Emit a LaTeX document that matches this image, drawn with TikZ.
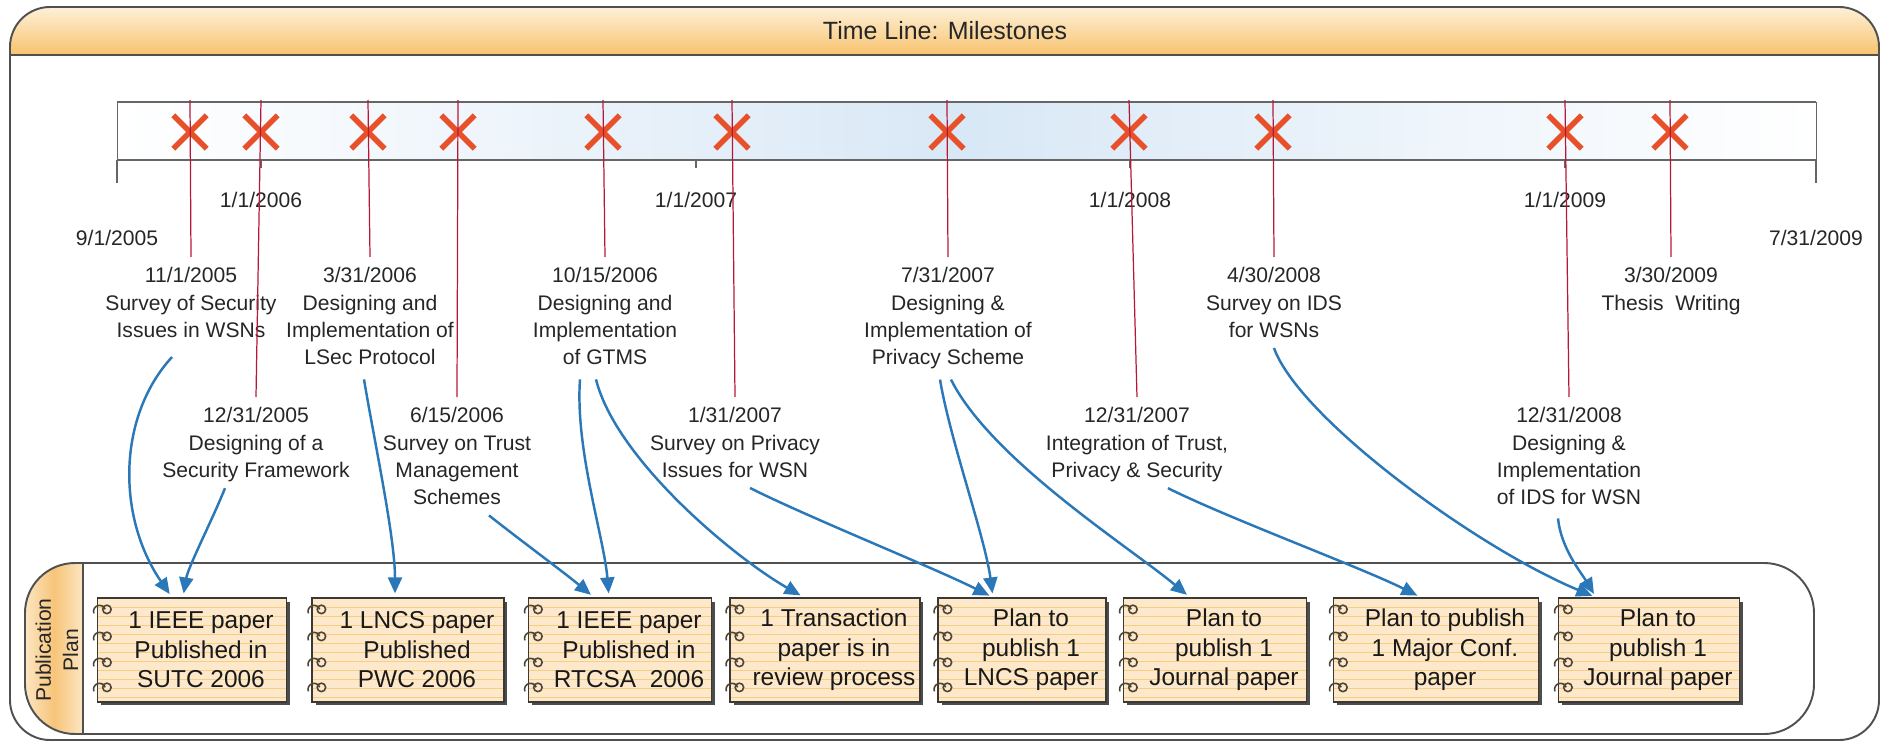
\documentclass[tikz,border=0pt]{standalone}
\usepackage{fontspec}
\setmainfont{Liberation Sans}
\usetikzlibrary{arrows.meta, shapes.misc, shadows}

\definecolor{framegray}{HTML}{505050}
\definecolor{hdrtop}{HTML}{FDF0D8}
\definecolor{hdrbot}{HTML}{F8C36E}
\definecolor{barblue}{HTML}{D9E8F6}
\definecolor{bargray}{HTML}{666666}
\definecolor{xred}{HTML}{E8502A}
\definecolor{linered}{HTML}{B81838}
\definecolor{flowblue}{HTML}{2A78B8}
\definecolor{nbfill}{HTML}{FDE8CC}
\definecolor{nbrule}{HTML}{F4CF7E}
\definecolor{nbedge}{HTML}{3C3832}
\definecolor{ringgray}{HTML}{4E4434}
\definecolor{tabpale}{HTML}{FCE6C2}
\definecolor{taborange}{HTML}{F7C47A}
\definecolor{txtgray}{HTML}{262626}

\tikzset{
  outerframe/.style={draw=framegray, line width=1.1pt},
  crossmark/.style={cross out, draw=xred, line width=3.1pt, minimum size=0.56cm, inner sep=0pt},
  msline/.style={draw=linered, line width=0.7pt},
  mslabel/.style={align=center, anchor=north, inner xsep=0pt, inner ysep=0.2cm},
  notebook/.style={draw=nbedge, fill=nbfill, line width=0.7pt, minimum height=2.08cm, inner sep=0pt,
    drop shadow={shadow xshift=0.07cm, shadow yshift=-0.07cm, opacity=1, fill=black!70},
    path picture={
      \foreach \k in {1,...,11}
        \draw[nbrule, line width=0.45pt] ([yshift=-\k*0.18cm]path picture bounding box.north west)
          -- ([yshift=-\k*0.18cm]path picture bounding box.north east);
    }},
  nbtext/.style={align=center, xshift=0.18cm, font=\fontsize{13.9}{16.8}\selectfont, text=black!90},
  ring/.style={draw=ringgray, line width=0.9pt},
  flow/.style={draw=flowblue, line width=1.4pt, shorten >=0.08cm, -{Triangle[length=0.32cm, width=0.28cm]}}
}

\begin{document}
\begin{tikzpicture}[x=0.02cm, y=-0.02cm, font=\fontsize{12}{15.6}\selectfont, text=txtgray]
  \useasboundingbox (0,0) rectangle (1891,747);

  % frame with header band
  \begin{scope}
    \clip[rounded corners=0.8cm] (10,7) rectangle (1879,740);
    \shade[top color=hdrtop, bottom color=hdrbot] (10,7) rectangle (1879,55);
  \end{scope}
  \draw[outerframe, rounded corners=0.8cm] (10,7) rectangle (1879,740);
  \draw[outerframe] (10,55) -- (1879,55);
  \node[font=\fontsize{14.2}{17}\selectfont] (title) at (945,31) {Time Line: Milestones};

  % time bar
  \shade[left color=white, right color=white, middle color=barblue] (117,102) rectangle (1816,160);
  \draw[bargray, line width=0.5pt] (117,102) rectangle (1816,160);
  \draw[bargray, line width=1.6pt] (117,102) -- (1816,102) (117,160) -- (1816,160);
  \draw[bargray, line width=0.8pt] (117,160) -- (117,183) (1816,160) -- (1816,183);
  \foreach \x in {261,696,1130,1565}
    \draw[bargray, line width=0.8pt] (\x,160) -- (\x,168);
  \coordinate (bartop) at (0,100);

  \node (d05) at (117,238) {9/1/2005};
  \node (d06) at (261,200) {1/1/2006};
  \node (d07) at (696,200) {1/1/2007};
  \node (d08) at (1130,200) {1/1/2008};
  \node (d09) at (1565,200) {1/1/2009};
  \node (d09end) at (1816,238) {7/31/2009};

  % milestones
  \node[crossmark] (c05nov) at (190,132) {};
  \node[crossmark] (c05dec) at (261,132) {};
  \node[crossmark] (c06mar) at (368,132) {};
  \node[crossmark] (c06jun) at (458,132) {};
  \node[crossmark] (c06oct) at (603,132) {};
  \node[crossmark] (c07jan) at (732,132) {};
  \node[crossmark] (c07jul) at (947,132) {};
  \node[crossmark] (c07dec) at (1129,132) {};
  \node[crossmark] (c08apr) at (1273,132) {};
  \node[crossmark] (c08dec) at (1565,132) {};
  \node[crossmark] (c09mar) at (1670,132) {};

  \node[mslabel] (m05nov) at (191,257) {11/1/2005\\Survey of Security\\Issues in WSNs};
  \node[mslabel] (m05dec) at (256,397) {12/31/2005\\Designing of a\\Security Framework};
  \node[mslabel] (m06mar) at (370,257) {3/31/2006\\Designing and\\Implementation of\\LSec Protocol};
  \node[mslabel] (m06jun) at (457,397) {6/15/2006\\Survey on Trust\\Management\\Schemes};
  \node[mslabel] (m06oct) at (605,257) {10/15/2006\\Designing and\\Implementation\\of GTMS};
  \node[mslabel] (m07jan) at (735,397) {1/31/2007\\Survey on Privacy\\Issues for WSN};
  \node[mslabel] (m07jul) at (948,257) {7/31/2007\\Designing \&\\Implementation of\\Privacy Scheme};
  \node[mslabel] (m07dec) at (1137,397) {12/31/2007\\Integration of Trust,\\Privacy \& Security};
  \node[mslabel] (m08apr) at (1274,257) {4/30/2008\\Survey on IDS\\for WSNs};
  \node[mslabel] (m08dec) at (1569,397) {12/31/2008\\Designing \&\\Implementation\\of IDS for WSN};
  \node[mslabel] (m09mar) at (1671,257) {3/30/2009\\Thesis\ \ Writing};

  \draw[msline] (c05nov |- bartop) -- (m05nov.north);
  \draw[msline] (c05dec |- bartop) -- (m05dec.north);
  \draw[msline] (c06mar |- bartop) -- (m06mar.north);
  \draw[msline] (c06jun |- bartop) -- (m06jun.north);
  \draw[msline] (c06oct |- bartop) -- (m06oct.north);
  \draw[msline] (c07jan |- bartop) -- (m07jan.north);
  \draw[msline] (c07jul |- bartop) -- (m07jul.north);
  \draw[msline] (c07dec |- bartop) -- (m07dec.north);
  \draw[msline] (c08apr |- bartop) -- (m08apr.north);
  \draw[msline] (c08dec |- bartop) -- (m08dec.north);
  \draw[msline] (c09mar |- bartop) -- (m09mar.north);

  % publication plan
  \begin{scope}
    \clip[rounded corners=1cm] (25,563) rectangle (1814,734);
    \shade[left color=tabpale, right color=tabpale, middle color=taborange] (25,563) rectangle (83,734);
  \end{scope}
  \draw[outerframe, rounded corners=1cm] (25,563) rectangle (1814,734);
  \draw[outerframe] (83,563) -- (83,734);
  \node[rotate=90, align=center] (plan) at (57,650) {Publication\\Plan};

  \node[notebook, minimum width=3.78cm, label={[nbtext]center:{1 IEEE paper\\Published in\\SUTC 2006}}] (p1) at (192,650) {};
  \node[notebook, minimum width=3.84cm, label={[nbtext]center:{1 LNCS paper\\Published\\PWC 2006}}] (p2) at (408,650) {};
  \node[notebook, minimum width=3.66cm, label={[nbtext]center:{1 IEEE paper\\Published in\\RTCSA\ \ 2006}}] (p3) at (620,650) {};
  \node[notebook, minimum width=3.80cm, label={[nbtext]center:{1 Transaction\\paper is in\\review process}}] (p4) at (825,650) {};
  \node[notebook, minimum width=3.36cm, label={[nbtext]center:{Plan to\\publish 1\\LNCS paper}}] (p5) at (1022,650) {};
  \node[notebook, minimum width=3.66cm, label={[nbtext]center:{Plan to\\publish 1\\Journal paper}}] (p6) at (1215,650) {};
  \node[notebook, minimum width=4.10cm, label={[nbtext]center:{Plan to publish\\1 Major Conf.\\paper}}] (p7) at (1436,650) {};
  \node[notebook, minimum width=3.62cm, label={[nbtext]center:{Plan to\\publish 1\\Journal paper}}] (p8) at (1649,650) {};

  % spiral rings
  \foreach \n in {1,...,8}
    \foreach \dy in {0.24cm,0.78cm,1.3cm,1.8cm} {
      \draw[ring, fill=nbfill] ([xshift=0.2cm,yshift=-\dy]p\n.north west) circle[radius=0.085cm];
      \draw[ring] ([xshift=-0.06cm,yshift=-\dy-0.08cm]p\n.north west) arc[start angle=200, end angle=20, radius=0.12cm];
    }

  % milestone -> paper
  \draw[flow] ([xshift=-0.38cm,yshift=-0.18cm]m05nov.south) .. controls +(-55,60) and +(-55,-80) .. ([xshift=-0.4cm]p1.north);
  \draw[flow] ([xshift=-0.62cm,yshift=0.08cm]m05dec.south) .. controls +(-12,30) and +(5,-30) .. ([xshift=-0.18cm]p1.north);
  \draw[flow] ([xshift=-0.12cm,yshift=-0.08cm]m06mar.south) .. controls +(10,60) and +(0,-60) .. ([xshift=-0.26cm]p2.north);
  \draw[flow] ([xshift=0.64cm]m06jun.south) .. controls +(25,20) and +(-30,-25) .. ([xshift=-0.52cm]p3.north);
  \draw[flow] ([xshift=-0.5cm,yshift=-0.08cm]m06oct.south) .. controls +(-5,70) and +(-5,-60) .. ([xshift=-0.22cm]p3.north);
  \draw[flow] ([xshift=-0.18cm,yshift=-0.08cm]m06oct.south) .. controls +(20,80) and +(-70,-40) .. ([xshift=-0.42cm]p4.north);
  \draw[flow] ([xshift=0.3cm]m07jan.south) .. controls +(60,30) and +(-60,-30) .. ([xshift=-0.58cm]p5.north);
  \draw[flow] ([xshift=-0.16cm]m07jul.south) .. controls +(10,60) and +(-8,-60) .. ([xshift=-0.58cm]p5.north);
  \draw[flow] ([xshift=0.06cm]m07jul.south) .. controls +(40,80) and +(-60,-50) .. ([xshift=-0.5cm]p6.north);
  \draw[flow] ([xshift=0.62cm,yshift=0.08cm]m07dec.south) .. controls +(60,30) and +(-60,-30) .. ([xshift=-0.3cm]p7.north);
  \draw[flow] (m08apr.south) .. controls +(25,70) and +(-120,-50) .. ([xshift=-1.06cm]p8.north);
  \draw[flow] ([xshift=-0.22cm,yshift=-0.06cm]m08dec.south) .. controls +(3,30) and +(-15,-25) .. ([xshift=-1.06cm]p8.north);
\end{tikzpicture}
\end{document}
